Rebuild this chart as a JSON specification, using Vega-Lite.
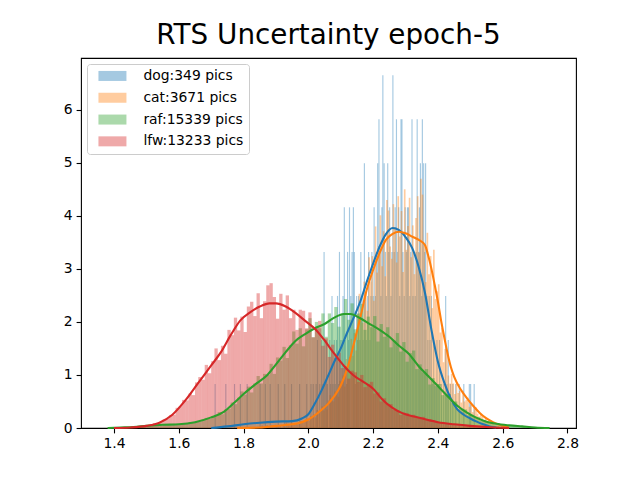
{
  "$schema": "https://vega.github.io/schema/vega-lite/v6.json",
  "width": 495,
  "height": 370,
  "autosize": {"type": "none"},
  "padding": {"left": 81, "top": 58, "right": 64, "bottom": 52},
  "background": "white",
  "title": {"text": "RTS Uncertainty epoch-5", "fontSize": 27.8, "font": "DejaVu Sans", "fontWeight": "normal", "color": "black", "anchor": "middle", "offset": 8},
  "datasets": {
    "dog": [
      {"x":1.712,"y":0.83},{"x":1.745,"y":0.83},{"x":1.772,"y":0.83},{"x":1.790,"y":0.83},{"x":1.811,"y":0.83},{"x":1.851,"y":0.83},{"x":1.867,"y":0.83},{"x":1.882,"y":0.83},{"x":1.907,"y":0.83},{"x":1.927,"y":0.83},{"x":1.948,"y":0.83},{"x":1.973,"y":0.83},{"x":1.995,"y":0.83},
      {"x":2.008,"y":0.83},{"x":2.015,"y":0.83},{"x":2.024,"y":0.83},{"x":2.028,"y":1.66},{"x":2.035,"y":0.83},{"x":2.041,"y":1.66},{"x":2.045,"y":0.83},{"x":2.0485,"y":3.32},{"x":2.052,"y":0.83},
      {"x":2.056,"y":1.66},{"x":2.059,"y":0.83},{"x":2.066,"y":1.66},{"x":2.069,"y":0.83},{"x":2.073,"y":2.49},{"x":2.076,"y":0.83},{"x":2.080,"y":1.66},{"x":2.083,"y":0.83},{"x":2.087,"y":1.66},{"x":2.090,"y":2.49},{"x":2.093,"y":0.83},{"x":2.096,"y":3.32},{"x":2.100,"y":1.66},
      {"x":2.104,"y":1.66},{"x":2.107,"y":2.49},{"x":2.111,"y":4.16},{"x":2.114,"y":1.66},{"x":2.118,"y":0.83},{"x":2.121,"y":3.32},{"x":2.124,"y":1.66},{"x":2.127,"y":4.16},{"x":2.131,"y":2.49},{"x":2.135,"y":3.32},{"x":2.139,"y":4.16},{"x":2.142,"y":3.32},{"x":2.145,"y":0.83},{"x":2.149,"y":2.49},
      {"x":2.152,"y":1.66},{"x":2.155,"y":2.49},{"x":2.159,"y":1.66},{"x":2.162,"y":3.32},{"x":2.166,"y":2.49},{"x":2.169,"y":1.66},{"x":2.173,"y":4.99},{"x":2.176,"y":2.49},{"x":2.179,"y":1.66},{"x":2.183,"y":2.49},{"x":2.186,"y":3.32},{"x":2.190,"y":1.66},{"x":2.193,"y":2.49},{"x":2.196,"y":3.32},{"x":2.200,"y":2.49},
      {"x":2.203,"y":4.16},{"x":2.207,"y":2.49},{"x":2.210,"y":3.32},{"x":2.214,"y":4.99},{"x":2.218,"y":5.82},{"x":2.221,"y":3.32},{"x":2.224,"y":2.49},{"x":2.227,"y":4.16},{"x":2.230,"y":6.65},{"x":2.234,"y":4.99},{"x":2.238,"y":3.32},{"x":2.241,"y":2.49},{"x":2.245,"y":4.99},{"x":2.248,"y":3.32},{"x":2.251,"y":4.16},
      {"x":2.255,"y":2.49},{"x":2.258,"y":3.32},{"x":2.261,"y":6.65},{"x":2.265,"y":3.32},{"x":2.268,"y":4.16},{"x":2.272,"y":5.82},{"x":2.275,"y":3.32},{"x":2.279,"y":4.16},{"x":2.282,"y":2.49},{"x":2.286,"y":5.82},{"x":2.289,"y":5.82},{"x":2.292,"y":3.32},{"x":2.296,"y":2.49},{"x":2.299,"y":4.16},
      {"x":2.303,"y":3.32},{"x":2.306,"y":4.16},{"x":2.309,"y":4.16},{"x":2.313,"y":2.49},{"x":2.316,"y":3.32},{"x":2.320,"y":5.82},{"x":2.323,"y":2.49},{"x":2.326,"y":3.32},{"x":2.330,"y":2.49},{"x":2.333,"y":3.32},{"x":2.336,"y":5.82},{"x":2.340,"y":3.32},{"x":2.343,"y":4.16},{"x":2.346,"y":4.99},{"x":2.350,"y":2.49},{"x":2.352,"y":5.82},
      {"x":2.356,"y":4.99},{"x":2.359,"y":3.32},{"x":2.362,"y":4.99},{"x":2.366,"y":2.49},{"x":2.369,"y":1.66},{"x":2.373,"y":2.49},{"x":2.376,"y":1.66},{"x":2.380,"y":2.49},{"x":2.383,"y":0.83},{"x":2.387,"y":1.66},{"x":2.390,"y":0.83},{"x":2.394,"y":0.83},{"x":2.397,"y":1.66},
      {"x":2.401,"y":0.83},{"x":2.405,"y":1.66},{"x":2.411,"y":0.83},{"x":2.418,"y":0.83},{"x":2.424,"y":2.49},{"x":2.428,"y":0.83},{"x":2.432,"y":1.66},{"x":2.439,"y":0.83},{"x":2.446,"y":0.83},
      {"x":2.455,"y":0.83},{"x":2.466,"y":0.83},{"x":2.480,"y":0.83},{"x":2.497,"y":0.83},{"x":2.501,"y":0.83},{"x":2.512,"y":0.83}
    ],
    "cat": [
      {"x":1.8575,"y":0.05},{"x":1.8725,"y":0.05},{"x":1.8875,"y":0.05},{"x":1.9025,"y":0.05},{"x":1.9125,"y":0.05},{"x":1.9225,"y":0.05},{"x":1.9325,"y":0.11},{"x":1.9375,"y":0.05},{"x":1.9425,"y":0.05},{"x":1.9475,"y":0.11},
      {"x":1.9525,"y":0.08},{"x":1.9575,"y":0.07},{"x":1.9625,"y":0.09},{"x":1.9675,"y":0.07},{"x":1.9725,"y":0.11},{"x":1.9775,"y":0.13},{"x":1.9825,"y":0.11},{"x":1.9875,"y":0.11},{"x":1.9925,"y":0.16},{"x":1.9975,"y":0.15},
      {"x":2.0025,"y":0.14},{"x":2.0075,"y":0.22},{"x":2.0125,"y":0.20},{"x":2.0175,"y":0.25},{"x":2.0225,"y":0.20},{"x":2.0275,"y":0.34},{"x":2.0325,"y":0.27},{"x":2.0375,"y":0.34},{"x":2.0425,"y":0.41},{"x":2.0475,"y":0.33},
      {"x":2.0525,"y":0.43},{"x":2.0575,"y":0.35},{"x":2.0625,"y":0.52},{"x":2.0675,"y":0.62},{"x":2.0725,"y":0.51},{"x":2.0775,"y":0.50},{"x":2.0825,"y":0.69},{"x":2.0875,"y":0.67},{"x":2.0925,"y":0.59},{"x":2.0975,"y":0.89},
      {"x":2.1025,"y":0.80},{"x":2.1075,"y":0.99},{"x":2.1125,"y":0.78},{"x":2.1175,"y":1.30},{"x":2.1225,"y":1.06},{"x":2.1275,"y":1.34},{"x":2.1325,"y":1.68},{"x":2.1375,"y":1.36},{"x":2.1425,"y":1.79},{"x":2.1475,"y":1.46},
      {"x":2.1525,"y":2.15},{"x":2.1575,"y":2.53},{"x":2.1625,"y":2.02},{"x":2.1675,"y":1.98},{"x":2.1725,"y":2.76},{"x":2.1775,"y":2.59},{"x":2.1825,"y":2.21},{"x":2.1875,"y":3.22},{"x":2.1925,"y":2.76},{"x":2.1975,"y":3.24},
      {"x":2.2025,"y":2.40},{"x":2.2075,"y":3.80},{"x":2.2125,"y":2.93},{"x":2.2175,"y":3.43},{"x":2.2225,"y":4.01},{"x":2.2275,"y":3.05},{"x":2.2325,"y":3.71},{"x":2.2375,"y":2.86},{"x":2.2425,"y":4.30},{"x":2.2475,"y":4.10},
      {"x":2.2525,"y":3.42},{"x":2.2575,"y":3.19},{"x":2.2625,"y":4.22},{"x":2.2675,"y":3.79},{"x":2.2725,"y":3.12},{"x":2.2775,"y":4.37},{"x":2.2825,"y":3.61},{"x":2.2875,"y":4.09},{"x":2.2925,"y":2.94},{"x":2.2975,"y":4.50},
      {"x":2.3025,"y":3.36},{"x":2.3075,"y":3.81},{"x":2.3125,"y":4.34},{"x":2.3175,"y":3.22},{"x":2.3225,"y":3.82},{"x":2.3275,"y":2.90},{"x":2.3325,"y":3.96},{"x":2.3375,"y":4.37},{"x":2.3425,"y":3.31},{"x":2.3475,"y":4.70},
      {"x":2.3525,"y":4.40},{"x":2.3575,"y":3.45},{"x":2.3625,"y":2.75},{"x":2.3675,"y":3.68},{"x":2.3725,"y":2.90},{"x":2.3775,"y":3.24},{"x":2.3825,"y":2.26},{"x":2.3875,"y":3.36},{"x":2.3925,"y":2.43},{"x":2.3975,"y":2.58},
      {"x":2.4025,"y":2.71},{"x":2.4075,"y":1.80},{"x":2.4125,"y":1.89},{"x":2.4175,"y":1.24},{"x":2.4225,"y":1.49},{"x":2.4275,"y":1.44},{"x":2.4325,"y":0.99},{"x":2.4375,"y":0.84},{"x":2.4425,"y":1.02},{"x":2.4475,"y":0.84},
      {"x":2.4525,"y":0.64},{"x":2.4575,"y":0.84},{"x":2.4625,"y":0.66},{"x":2.4675,"y":0.70},{"x":2.4725,"y":0.48},{"x":2.4775,"y":0.70},{"x":2.4825,"y":0.50},{"x":2.4875,"y":0.53},{"x":2.4925,"y":0.57},{"x":2.4975,"y":0.40},
      {"x":2.5025,"y":0.44},{"x":2.5075,"y":0.30},{"x":2.5125,"y":0.39},{"x":2.5175,"y":0.39},{"x":2.5225,"y":0.27},{"x":2.5275,"y":0.22},{"x":2.5325,"y":0.26},{"x":2.5375,"y":0.21},{"x":2.5425,"y":0.15},{"x":2.5475,"y":0.18},
      {"x":2.5525,"y":0.13},{"x":2.5575,"y":0.13},{"x":2.5625,"y":0.09},{"x":2.5675,"y":0.11},{"x":2.5725,"y":0.08},{"x":2.5775,"y":0.05},{"x":2.5825,"y":0.05},{"x":2.5875,"y":0.05},{"x":2.5975,"y":0.05}
    ],
    "raf": [
      {"x":1.405,"y":0.01},{"x":1.415,"y":0.01},{"x":1.425,"y":0.01},{"x":1.435,"y":0.02},{"x":1.445,"y":0.01},{"x":1.455,"y":0.02},{"x":1.465,"y":0.03},{"x":1.475,"y":0.02},{"x":1.485,"y":0.03},{"x":1.495,"y":0.04},
      {"x":1.505,"y":0.03},{"x":1.515,"y":0.05},{"x":1.525,"y":0.04},{"x":1.535,"y":0.06},{"x":1.545,"y":0.05},{"x":1.555,"y":0.07},{"x":1.565,"y":0.06},{"x":1.575,"y":0.05},{"x":1.585,"y":0.08},{"x":1.595,"y":0.07},
      {"x":1.605,"y":0.06},{"x":1.615,"y":0.09},{"x":1.625,"y":0.08},{"x":1.635,"y":0.11},{"x":1.645,"y":0.10},{"x":1.655,"y":0.13},{"x":1.665,"y":0.12},{"x":1.675,"y":0.16},{"x":1.685,"y":0.19},{"x":1.695,"y":0.17},
      {"x":1.705,"y":0.22},{"x":1.715,"y":0.24},{"x":1.725,"y":0.30},{"x":1.735,"y":0.26},{"x":1.745,"y":0.35},{"x":1.755,"y":0.36},{"x":1.765,"y":0.48},{"x":1.775,"y":0.45},{"x":1.785,"y":0.57},{"x":1.795,"y":0.69},
      {"x":1.805,"y":0.63},{"x":1.815,"y":0.78},{"x":1.825,"y":0.67},{"x":1.835,"y":0.84},{"x":1.845,"y":0.98},{"x":1.855,"y":0.84},{"x":1.865,"y":1.02},{"x":1.875,"y":1.00},{"x":1.885,"y":1.21},{"x":1.895,"y":1.02},
      {"x":1.905,"y":1.33},{"x":1.915,"y":1.27},{"x":1.925,"y":1.53},{"x":1.935,"y":1.32},{"x":1.945,"y":1.56},{"x":1.955,"y":1.82},{"x":1.965,"y":1.59},{"x":1.975,"y":1.88},{"x":1.985,"y":1.54},{"x":1.995,"y":1.86},
      {"x":2.005,"y":2.07},{"x":2.015,"y":1.71},{"x":2.025,"y":2.00},{"x":2.035,"y":1.88},{"x":2.045,"y":2.16},{"x":2.055,"y":1.72},{"x":2.065,"y":2.16},{"x":2.075,"y":1.98},{"x":2.085,"y":2.28},{"x":2.095,"y":1.91},
      {"x":2.105,"y":2.16},{"x":2.115,"y":2.43},{"x":2.125,"y":2.04},{"x":2.135,"y":2.35},{"x":2.145,"y":1.86},{"x":2.155,"y":2.16},{"x":2.165,"y":2.34},{"x":2.175,"y":1.85},{"x":2.185,"y":2.10},{"x":2.195,"y":1.90},
      {"x":2.205,"y":2.11},{"x":2.215,"y":1.63},{"x":2.225,"y":1.96},{"x":2.235,"y":1.72},{"x":2.245,"y":1.90},{"x":2.255,"y":1.52},{"x":2.265,"y":1.65},{"x":2.275,"y":1.79},{"x":2.285,"y":1.44},{"x":2.295,"y":1.62},
      {"x":2.305,"y":1.25},{"x":2.315,"y":1.41},{"x":2.325,"y":1.46},{"x":2.335,"y":1.11},{"x":2.345,"y":1.20},{"x":2.355,"y":1.05},{"x":2.365,"y":1.11},{"x":2.375,"y":0.82},{"x":2.385,"y":0.94},{"x":2.395,"y":0.79},
      {"x":2.405,"y":0.83},{"x":2.415,"y":0.62},{"x":2.425,"y":0.64},{"x":2.435,"y":0.64},{"x":2.445,"y":0.48},{"x":2.455,"y":0.50},{"x":2.465,"y":0.35},{"x":2.475,"y":0.36},{"x":2.485,"y":0.35},{"x":2.495,"y":0.25},
      {"x":2.505,"y":0.25},{"x":2.515,"y":0.21},{"x":2.525,"y":0.20},{"x":2.535,"y":0.14},{"x":2.545,"y":0.14},{"x":2.555,"y":0.11},{"x":2.565,"y":0.11},{"x":2.575,"y":0.08},{"x":2.585,"y":0.08},{"x":2.595,"y":0.07},
      {"x":2.605,"y":0.06},{"x":2.615,"y":0.05},{"x":2.625,"y":0.05},{"x":2.635,"y":0.04},{"x":2.645,"y":0.03},{"x":2.655,"y":0.03},{"x":2.665,"y":0.02},{"x":2.675,"y":0.03},{"x":2.685,"y":0.01},{"x":2.695,"y":0.01},
      {"x":2.705,"y":0.01},{"x":2.715,"y":0.01}
    ],
    "lfw": [
      {"x":1.455,"y":0.01},{"x":1.465,"y":0.02},{"x":1.475,"y":0.02},{"x":1.485,"y":0.03},{"x":1.495,"y":0.04},
      {"x":1.505,"y":0.05},{"x":1.515,"y":0.06},{"x":1.525,"y":0.09},{"x":1.535,"y":0.08},{"x":1.545,"y":0.11},{"x":1.555,"y":0.16},{"x":1.565,"y":0.17},{"x":1.575,"y":0.24},{"x":1.585,"y":0.25},{"x":1.595,"y":0.38},
      {"x":1.605,"y":0.41},{"x":1.615,"y":0.53},{"x":1.625,"y":0.52},{"x":1.635,"y":0.65},{"x":1.645,"y":0.62},{"x":1.655,"y":0.86},{"x":1.665,"y":0.96},{"x":1.675,"y":0.91},{"x":1.685,"y":1.19},{"x":1.695,"y":1.03},
      {"x":1.705,"y":1.26},{"x":1.715,"y":1.50},{"x":1.725,"y":1.28},{"x":1.735,"y":1.55},{"x":1.745,"y":1.40},{"x":1.755,"y":1.85},{"x":1.765,"y":1.75},{"x":1.775,"y":2.08},{"x":1.785,"y":1.84},{"x":1.795,"y":2.10},
      {"x":1.805,"y":1.81},{"x":1.815,"y":2.29},{"x":1.825,"y":2.38},{"x":1.835,"y":2.11},{"x":1.845,"y":2.54},{"x":1.855,"y":2.07},{"x":1.865,"y":2.39},{"x":1.875,"y":2.69},{"x":1.885,"y":2.73},{"x":1.895,"y":2.47},
      {"x":1.905,"y":2.06},{"x":1.915,"y":2.53},{"x":1.925,"y":2.23},{"x":1.935,"y":2.50},{"x":1.945,"y":2.07},{"x":1.955,"y":2.23},{"x":1.965,"y":1.85},{"x":1.975,"y":2.23},{"x":1.985,"y":2.21},{"x":1.995,"y":1.88},
      {"x":2.005,"y":2.18},{"x":2.015,"y":1.71},{"x":2.025,"y":1.90},{"x":2.035,"y":2.02},{"x":2.045,"y":1.55},{"x":2.055,"y":1.69},{"x":2.065,"y":1.34},{"x":2.075,"y":1.57},{"x":2.085,"y":1.32},{"x":2.095,"y":1.42},
      {"x":2.105,"y":1.13},{"x":2.115,"y":1.16},{"x":2.125,"y":0.93},{"x":2.135,"y":1.08},{"x":2.145,"y":1.05},{"x":2.155,"y":0.87},{"x":2.165,"y":1.00},{"x":2.175,"y":0.77},{"x":2.185,"y":0.83},{"x":2.195,"y":0.87},
      {"x":2.205,"y":0.65},{"x":2.215,"y":0.67},{"x":2.225,"y":0.50},{"x":2.235,"y":0.56},{"x":2.245,"y":0.45},{"x":2.255,"y":0.45},{"x":2.265,"y":0.34},{"x":2.275,"y":0.34},{"x":2.285,"y":0.25},{"x":2.295,"y":0.29},
      {"x":2.305,"y":0.28},{"x":2.315,"y":0.23},{"x":2.325,"y":0.25},{"x":2.335,"y":0.19},{"x":2.345,"y":0.20},{"x":2.355,"y":0.21},{"x":2.365,"y":0.15},{"x":2.375,"y":0.16},{"x":2.385,"y":0.11},{"x":2.395,"y":0.13},
      {"x":2.405,"y":0.11},{"x":2.415,"y":0.10},{"x":2.425,"y":0.09},{"x":2.435,"y":0.09},{"x":2.445,"y":0.07},{"x":2.455,"y":0.07},{"x":2.465,"y":0.06},{"x":2.475,"y":0.05},{"x":2.485,"y":0.05},{"x":2.495,"y":0.04},
      {"x":2.505,"y":0.04},{"x":2.515,"y":0.03},{"x":2.525,"y":0.03},{"x":2.535,"y":0.02},{"x":2.545,"y":0.02},{"x":2.555,"y":0.02},{"x":2.565,"y":0.01},{"x":2.575,"y":0.01}
    ],
    "kde": [
      {"s":"dog","x":1.70,"y":0.00},{"s":"dog","x":1.75,"y":0.03},{"s":"dog","x":1.80,"y":0.07},{"s":"dog","x":1.85,"y":0.10},{"s":"dog","x":1.90,"y":0.12},{"s":"dog","x":1.95,"y":0.13},{"s":"dog","x":1.98,"y":0.18},{"s":"dog","x":2.00,"y":0.26},{"s":"dog","x":2.02,"y":0.46},{"s":"dog","x":2.04,"y":0.70},{"s":"dog","x":2.06,"y":0.97},{"s":"dog","x":2.08,"y":1.25},{"s":"dog","x":2.10,"y":1.50},{"s":"dog","x":2.12,"y":1.80},{"s":"dog","x":2.14,"y":2.08},{"s":"dog","x":2.16,"y":2.38},{"s":"dog","x":2.18,"y":2.75},{"s":"dog","x":2.20,"y":3.10},{"s":"dog","x":2.22,"y":3.42},{"s":"dog","x":2.24,"y":3.66},{"s":"dog","x":2.26,"y":3.77},{"s":"dog","x":2.28,"y":3.73},{"s":"dog","x":2.30,"y":3.60},{"s":"dog","x":2.32,"y":3.40},{"s":"dog","x":2.34,"y":3.05},{"s":"dog","x":2.36,"y":2.55},{"s":"dog","x":2.38,"y":1.85},{"s":"dog","x":2.40,"y":1.25},{"s":"dog","x":2.42,"y":0.85},{"s":"dog","x":2.44,"y":0.55},{"s":"dog","x":2.46,"y":0.35},{"s":"dog","x":2.48,"y":0.25},{"s":"dog","x":2.50,"y":0.18},{"s":"dog","x":2.52,"y":0.12},{"s":"dog","x":2.54,"y":0.07},{"s":"dog","x":2.56,"y":0.03},{"s":"dog","x":2.58,"y":0.01},
      {"s":"cat","x":1.78,"y":0.00},{"s":"cat","x":1.85,"y":0.01},{"s":"cat","x":1.90,"y":0.04},{"s":"cat","x":1.95,"y":0.07},{"s":"cat","x":1.98,"y":0.11},{"s":"cat","x":2.00,"y":0.16},{"s":"cat","x":2.02,"y":0.24},{"s":"cat","x":2.04,"y":0.34},{"s":"cat","x":2.06,"y":0.45},{"s":"cat","x":2.08,"y":0.60},{"s":"cat","x":2.10,"y":0.80},{"s":"cat","x":2.12,"y":1.12},{"s":"cat","x":2.14,"y":1.58},{"s":"cat","x":2.16,"y":2.07},{"s":"cat","x":2.18,"y":2.60},{"s":"cat","x":2.20,"y":2.98},{"s":"cat","x":2.22,"y":3.30},{"s":"cat","x":2.24,"y":3.55},{"s":"cat","x":2.26,"y":3.66},{"s":"cat","x":2.28,"y":3.70},{"s":"cat","x":2.30,"y":3.67},{"s":"cat","x":2.32,"y":3.61},{"s":"cat","x":2.34,"y":3.55},{"s":"cat","x":2.36,"y":3.45},{"s":"cat","x":2.37,"y":3.25},{"s":"cat","x":2.38,"y":3.00},{"s":"cat","x":2.39,"y":2.70},{"s":"cat","x":2.40,"y":2.38},{"s":"cat","x":2.41,"y":2.02},{"s":"cat","x":2.42,"y":1.70},{"s":"cat","x":2.43,"y":1.40},{"s":"cat","x":2.44,"y":1.15},{"s":"cat","x":2.45,"y":0.97},{"s":"cat","x":2.47,"y":0.73},{"s":"cat","x":2.49,"y":0.56},{"s":"cat","x":2.51,"y":0.41},{"s":"cat","x":2.53,"y":0.28},{"s":"cat","x":2.55,"y":0.18},{"s":"cat","x":2.57,"y":0.11},{"s":"cat","x":2.59,"y":0.06},{"s":"cat","x":2.62,"y":0.01},
      {"s":"raf","x":1.38,"y":0.00},{"s":"raf","x":1.42,"y":0.01},{"s":"raf","x":1.46,"y":0.02},{"s":"raf","x":1.50,"y":0.04},{"s":"raf","x":1.55,"y":0.06},{"s":"raf","x":1.60,"y":0.07},{"s":"raf","x":1.65,"y":0.11},{"s":"raf","x":1.70,"y":0.20},{"s":"raf","x":1.74,"y":0.31},{"s":"raf","x":1.77,"y":0.47},{"s":"raf","x":1.80,"y":0.64},{"s":"raf","x":1.84,"y":0.84},{"s":"raf","x":1.87,"y":0.98},{"s":"raf","x":1.90,"y":1.20},{"s":"raf","x":1.93,"y":1.43},{"s":"raf","x":1.96,"y":1.64},{"s":"raf","x":1.99,"y":1.77},{"s":"raf","x":2.02,"y":1.88},{"s":"raf","x":2.05,"y":1.96},{"s":"raf","x":2.08,"y":2.08},{"s":"raf","x":2.11,"y":2.15},{"s":"raf","x":2.13,"y":2.15},{"s":"raf","x":2.16,"y":2.07},{"s":"raf","x":2.19,"y":1.96},{"s":"raf","x":2.22,"y":1.85},{"s":"raf","x":2.25,"y":1.72},{"s":"raf","x":2.28,"y":1.55},{"s":"raf","x":2.31,"y":1.40},{"s":"raf","x":2.34,"y":1.17},{"s":"raf","x":2.37,"y":0.98},{"s":"raf","x":2.40,"y":0.79},{"s":"raf","x":2.43,"y":0.60},{"s":"raf","x":2.46,"y":0.42},{"s":"raf","x":2.49,"y":0.29},{"s":"raf","x":2.52,"y":0.19},{"s":"raf","x":2.55,"y":0.12},{"s":"raf","x":2.58,"y":0.08},{"s":"raf","x":2.62,"y":0.05},{"s":"raf","x":2.66,"y":0.03},{"s":"raf","x":2.70,"y":0.01},{"s":"raf","x":2.745,"y":0.00},
      {"s":"lfw","x":1.40,"y":0.00},{"s":"lfw","x":1.45,"y":0.01},{"s":"lfw","x":1.50,"y":0.04},{"s":"lfw","x":1.54,"y":0.10},{"s":"lfw","x":1.58,"y":0.25},{"s":"lfw","x":1.62,"y":0.52},{"s":"lfw","x":1.66,"y":0.85},{"s":"lfw","x":1.70,"y":1.18},{"s":"lfw","x":1.73,"y":1.43},{"s":"lfw","x":1.76,"y":1.75},{"s":"lfw","x":1.79,"y":2.03},{"s":"lfw","x":1.82,"y":2.18},{"s":"lfw","x":1.85,"y":2.29},{"s":"lfw","x":1.88,"y":2.35},{"s":"lfw","x":1.90,"y":2.35},{"s":"lfw","x":1.93,"y":2.29},{"s":"lfw","x":1.96,"y":2.17},{"s":"lfw","x":1.99,"y":2.02},{"s":"lfw","x":2.02,"y":1.87},{"s":"lfw","x":2.05,"y":1.65},{"s":"lfw","x":2.08,"y":1.40},{"s":"lfw","x":2.11,"y":1.17},{"s":"lfw","x":2.14,"y":0.99},{"s":"lfw","x":2.17,"y":0.87},{"s":"lfw","x":2.20,"y":0.74},{"s":"lfw","x":2.23,"y":0.53},{"s":"lfw","x":2.26,"y":0.38},{"s":"lfw","x":2.29,"y":0.28},{"s":"lfw","x":2.33,"y":0.21},{"s":"lfw","x":2.37,"y":0.15},{"s":"lfw","x":2.40,"y":0.11},{"s":"lfw","x":2.45,"y":0.07},{"s":"lfw","x":2.50,"y":0.04},{"s":"lfw","x":2.55,"y":0.02},{"s":"lfw","x":2.62,"y":0.00}
    ]
  },
  "layer": [
    {
      "data": {"name": "dog"},
      "mark": {"type": "bar", "orient": "vertical", "width": 1.15, "opacity": 0.4},
      "encoding": {
        "x": {"field": "x", "type": "quantitative", "scale": {"domain": [1.3133, 2.811], "nice": false, "zero": false},
              "axis": {"values": [1.4, 1.6, 1.8, 2.0, 2.2, 2.4, 2.6, 2.8], "format": ".1f"}},
        "y": {"field": "y", "type": "quantitative", "scale": {"domain": [0, 6.975], "nice": false},
              "axis": {"values": [0, 1, 2, 3, 4, 5, 6], "format": "d"}},
        "color": {"datum": "dog:349 pics",
                  "scale": {"domain": ["dog:349 pics", "cat:3671 pics", "raf:15339 pics", "lfw:13233 pics"], "range": ["#1f77b4", "#ff7f0e", "#2ca02c", "#d62728"]},
                  "legend": {"orient": "none", "legendX": 6, "legendY": 6, "title": null,
                             "symbolType": "M-1,-10H55V10H-1Z", "symbolSize": 1, "symbolStrokeWidth": 0, "symbolOpacity": 0.4,
                             "labelFontSize": 13.9, "labelFont": "DejaVu Sans", "labelColor": "black", "labelOffset": 37.5,
                             "rowPadding": 6.8, "padding": 5, "fillColor": "rgba(255,255,255,0.8)", "strokeColor": "#cccccc", "cornerRadius": 3}}
      }
    },
    {
      "data": {"name": "cat"},
      "mark": {"type": "bar", "orient": "vertical", "width": 1.65, "opacity": 0.4},
      "encoding": {
        "x": {"field": "x", "type": "quantitative"},
        "y": {"field": "y", "type": "quantitative"},
        "color": {"datum": "cat:3671 pics"}
      }
    },
    {
      "data": {"name": "raf"},
      "mark": {"type": "bar", "orient": "vertical", "width": 3.3, "opacity": 0.4},
      "encoding": {
        "x": {"field": "x", "type": "quantitative"},
        "y": {"field": "y", "type": "quantitative"},
        "color": {"datum": "raf:15339 pics"}
      }
    },
    {
      "data": {"name": "lfw"},
      "mark": {"type": "bar", "orient": "vertical", "width": 3.3, "opacity": 0.4},
      "encoding": {
        "x": {"field": "x", "type": "quantitative"},
        "y": {"field": "y", "type": "quantitative"},
        "color": {"datum": "lfw:13233 pics"}
      }
    },
    {
      "data": {"name": "kde"},
      "mark": {"type": "line", "strokeWidth": 2.1, "interpolate": "monotone"},
      "encoding": {
        "x": {"field": "x", "type": "quantitative"},
        "y": {"field": "y", "type": "quantitative"},
        "stroke": {"field": "s", "type": "nominal", "scale": {"domain": ["dog", "cat", "raf", "lfw"], "range": ["#1f77b4", "#ff7f0e", "#2ca02c", "#d62728"]}, "legend": null}
      }
    }
  ],
  "config": {
    "view": {"stroke": "black", "strokeWidth": 1.1},
    "axis": {"labelFont": "DejaVu Sans", "labelFontSize": 13.9, "labelColor": "black", "tickColor": "black", "tickSize": 4.9, "tickWidth": 1.1,
             "labelPadding": 4, "domain": false, "grid": false, "title": null, "labelFlush": false, "labelOverlap": false}
  }
}
